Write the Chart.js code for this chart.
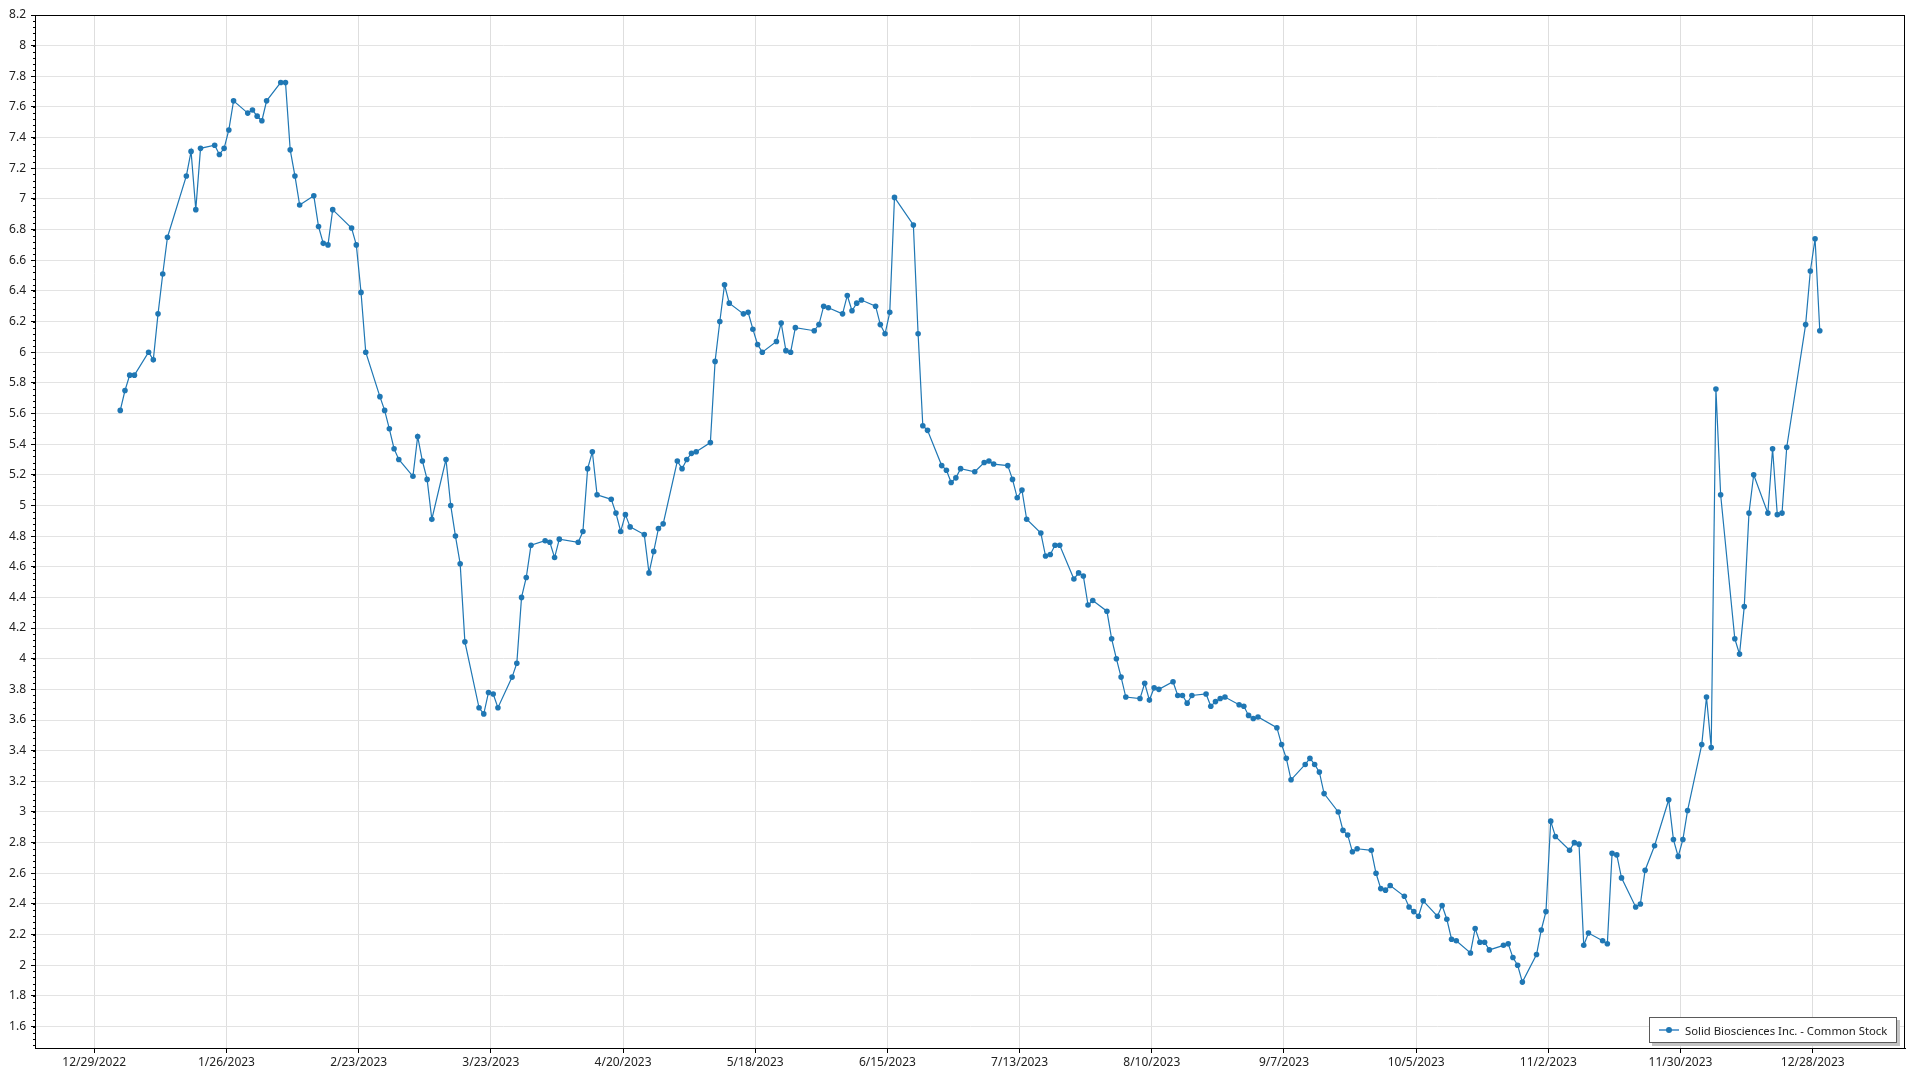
<!DOCTYPE html>
<html>
<head>
<meta charset="utf-8">
<title>Solid Biosciences Inc. - Common Stock</title>
<script src="https://cdn.jsdelivr.net/npm/chart.js@4.4.0/dist/chart.umd.min.js"></script>
<style>
    html, body { margin: 0; padding: 0; background: #fff; }
    #wrap { position: relative; width: 1920px; height: 1080px; }
    #legend {
        position: absolute; left: 1649px; top: 1017px; width: 248px; height: 26px;
        box-sizing: border-box; border: 1.5px solid #5a5a5a; background: #fff;
        box-shadow: 3px 3px 0 #c4c4c4;
        font: 11.3px 'Segoe UI', 'Noto Sans', sans-serif; color: #222;
        display: flex; align-items: center; white-space: nowrap; overflow: hidden;
    }
    #legend .swatch { position: relative; flex: none; width: 20px; height: 10px; margin: 0 6px 0 9px; }
    #legend .swatch::before { content: ''; position: absolute; left: 0; right: 0; top: 4px; height: 2px; background: #6aa3d2; }
    #legend .swatch::after { content: ''; position: absolute; left: 7px; top: 2px; width: 6px; height: 6px; border-radius: 50%; background: #1f77b4; }
</style>
</head>
<body>
<div id="wrap">
    <canvas id="stockChart" width="1920" height="1080"></canvas>
    <div id="legend"><span class="swatch"></span><span>Solid Biosciences Inc. - Common Stock</span></div>
</div>
<script>
// Trading days of 2023 (day of month, one row per month)
const tradingDays = [
    [3, 4, 5, 6, 9, 10, 11, 12, 13, 17, 18, 19, 20, 23, 24, 25, 26, 27, 30, 31],
    [1, 2, 3, 6, 7, 8, 9, 10, 13, 14, 15, 16, 17, 21, 22, 23, 24, 27, 28],
    [1, 2, 3, 6, 7, 8, 9, 10, 13, 14, 15, 16, 17, 20, 21, 22, 23, 24, 27, 28, 29, 30, 31],
    [3, 4, 5, 6, 10, 11, 12, 13, 14, 17, 18, 19, 20, 21, 24, 25, 26, 27, 28],
    [1, 2, 3, 4, 5, 8, 9, 10, 11, 12, 15, 16, 17, 18, 19, 22, 23, 24, 25, 26, 30, 31],
    [1, 2, 5, 6, 7, 8, 9, 12, 13, 14, 15, 16, 20, 21, 22, 23, 26, 27, 28, 29, 30],
    [3, 5, 6, 7, 10, 11, 12, 13, 14, 17, 18, 19, 20, 21, 24, 25, 26, 27, 28, 31],
    [1, 2, 3, 4, 7, 8, 9, 10, 11, 14, 15, 16, 17, 18, 21, 22, 23, 24, 25, 28, 29, 30, 31],
    [1, 5, 6, 7, 8, 11, 12, 13, 14, 15, 18, 19, 20, 21, 22, 25, 26, 27, 28, 29],
    [2, 3, 4, 5, 6, 9, 10, 11, 12, 13, 16, 17, 18, 19, 20, 23, 24, 25, 26, 27, 30, 31],
    [1, 2, 3, 6, 7, 8, 9, 10, 13, 14, 15, 16, 17, 20, 21, 22, 24, 27, 28, 29, 30],
    [1, 4, 5, 6, 7, 8, 11, 12, 13, 14, 15, 18, 19, 20, 21, 22, 26, 27, 28, 29]
];

// Closing prices, same layout as tradingDays
const closes = [
    [5.62, 5.75, 5.85, 5.85, 6.00, 5.95, 6.25, 6.51, 6.75, 7.15, 7.31, 6.93, 7.33, 7.35, 7.29, 7.33, 7.45, 7.64, 7.56, 7.58],
    [7.54, 7.51, 7.64, 7.76, 7.76, 7.32, 7.15, 6.96, 7.02, 6.82, 6.71, 6.70, 6.93, 6.81, 6.70, 6.39, 6.00, 5.71, 5.62],
    [5.50, 5.37, 5.30, 5.19, 5.45, 5.29, 5.17, 4.91, 5.30, 5.00, 4.80, 4.62, 4.11, 3.68, 3.64, 3.78, 3.77, 3.68, 3.88, 3.97, 4.40, 4.53, 4.74],
    [4.77, 4.76, 4.66, 4.78, 4.76, 4.83, 5.24, 5.35, 5.07, 5.04, 4.95, 4.83, 4.94, 4.86, 4.81, 4.56, 4.70, 4.85, 4.88],
    [5.29, 5.24, 5.30, 5.34, 5.35, 5.41, 5.94, 6.20, 6.44, 6.32, 6.25, 6.26, 6.15, 6.05, 6.00, 6.07, 6.19, 6.01, 6.00, 6.16, 6.14, 6.18],
    [6.30, 6.29, 6.25, 6.37, 6.27, 6.32, 6.34, 6.30, 6.18, 6.12, 6.26, 7.01, 6.83, 6.12, 5.52, 5.49, 5.26, 5.23, 5.15, 5.18, 5.24],
    [5.22, 5.28, 5.29, 5.27, 5.26, 5.17, 5.05, 5.10, 4.91, 4.82, 4.67, 4.68, 4.74, 4.74, 4.52, 4.56, 4.54, 4.35, 4.38, 4.31],
    [4.13, 4.00, 3.88, 3.75, 3.74, 3.84, 3.73, 3.81, 3.80, 3.85, 3.76, 3.76, 3.71, 3.76, 3.77, 3.69, 3.72, 3.74, 3.75, 3.70, 3.69, 3.63, 3.61],
    [3.62, 3.55, 3.44, 3.35, 3.21, 3.31, 3.35, 3.31, 3.26, 3.12, 3.00, 2.88, 2.85, 2.74, 2.76, 2.75, 2.60, 2.50, 2.49, 2.52],
    [2.45, 2.38, 2.35, 2.32, 2.42, 2.32, 2.39, 2.30, 2.17, 2.16, 2.08, 2.24, 2.15, 2.15, 2.10, 2.13, 2.14, 2.05, 2.00, 1.89, 2.07, 2.23],
    [2.35, 2.94, 2.84, 2.75, 2.80, 2.79, 2.13, 2.21, 2.16, 2.14, 2.73, 2.72, 2.57, 2.38, 2.40, 2.62, 2.78, 3.08, 2.82, 2.71, 2.82],
    [3.01, 3.44, 3.75, 3.42, 5.76, 5.07, 4.13, 4.03, 4.34, 4.95, 5.20, 4.95, 5.37, 4.94, 4.95, 5.38, 6.18, 6.53, 6.74, 6.14]
];

const xTickLabels = ['12/29/2022', '1/26/2023', '2/23/2023', '3/23/2023', '4/20/2023', '5/18/2023', '6/15/2023',
    '7/13/2023', '8/10/2023', '9/7/2023', '10/5/2023', '11/2/2023', '11/30/2023', '12/28/2023'];
const yTickValues = [1.6, 1.8, 2, 2.2, 2.4, 2.6, 2.8, 3, 3.2, 3.4, 3.6, 3.8, 4, 4.2, 4.4, 4.6, 4.8,
    5, 5.2, 5.4, 5.6, 5.8, 6, 6.2, 6.4, 6.6, 6.8, 7, 7.2, 7.4, 7.6, 7.8, 8, 8.2];

// x axis works in days counted from the first tick date
const DAY = 86400000;
const origin = Date.UTC(2022, 11, 29);
const quoteHour = 12; // quotes are stamped at midday, ticks at midnight
function dayOf(label) {
    const [m, d, y] = label.split('/').map(Number);
    return (Date.UTC(y, m - 1, d) - origin) / DAY;
}

const points = [];
tradingDays.forEach((days, mi) => {
    days.forEach((d, i) => {
        points.push({ x: (Date.UTC(2023, mi, d, quoteHour) - origin) / DAY, y: closes[mi][i] });
    });
});
const xTickDays = xTickLabels.map(dayOf);

const lineColor = '#1f77b4';
const tickFont = { family: "'Segoe UI', 'Noto Sans', sans-serif", size: 12 };

// black frame round the plot plus minor ticks on the value axis
const framePlugin = {
    id: 'frame',
    afterDraw(chart) {
        const { ctx, chartArea: a } = chart;
        const y = chart.scales.y;
        ctx.save();
        ctx.strokeStyle = '#000';
        ctx.lineWidth = 1;
        ctx.strokeRect(a.left + 0.5, a.top + 0.5, a.right - a.left - 1, a.bottom - a.top);
        ctx.beginPath();
        for (let v = 1.48; v < 8.21; v += 0.04) {
            const py = Math.round(y.getPixelForValue(v)) + 0.5;
            ctx.moveTo(a.left - 2, py);
            ctx.lineTo(a.left, py);
        }
        ctx.stroke();
        ctx.restore();
    }
};

new Chart(document.getElementById('stockChart'), {
    type: 'line',
    data: {
        datasets: [{
            label: 'Solid Biosciences Inc. - Common Stock',
            data: points,
            borderColor: lineColor,
            borderWidth: 1.2,
            pointRadius: 2.8,
            pointBackgroundColor: lineColor,
            pointBorderWidth: 0,
            tension: 0,
            fill: false
        }]
    },
    options: {
        responsive: false,
        animation: false,
        layout: { padding: { top: 15, right: 15, left: 0, bottom: 0 } },
        plugins: {
            legend: { display: false },
            tooltip: { enabled: false }
        },
        scales: {
            x: {
                type: 'linear',
                min: -12.56,
                max: 383.55,
                afterBuildTicks: (scale) => { scale.ticks = xTickDays.map(v => ({ value: v })); },
                afterFit: (scale) => { scale.height = 32; },
                grid: { color: '#dedede', tickColor: '#000', tickLength: 5 },
                border: { color: '#000', width: 1 },
                ticks: {
                    autoSkip: false,
                    maxRotation: 0,
                    padding: 2,
                    color: '#222',
                    font: tickFont,
                    callback: (value, index) => xTickLabels[index]
                }
            },
            y: {
                min: 1.46,
                max: 8.2,
                afterBuildTicks: (scale) => { scale.ticks = yTickValues.map(v => ({ value: v })); },
                afterFit: (scale) => { scale.width = 35; },
                grid: { color: '#e3e3e3', tickColor: '#000', tickLength: 4 },
                border: { color: '#000', width: 1 },
                ticks: {
                    autoSkip: false,
                    padding: 5,
                    color: '#222',
                    font: tickFont,
                    callback: (value) => String(Number(value.toFixed(1)))
                }
            }
        }
    },
    plugins: [framePlugin]
});
</script>
</body>
</html>
